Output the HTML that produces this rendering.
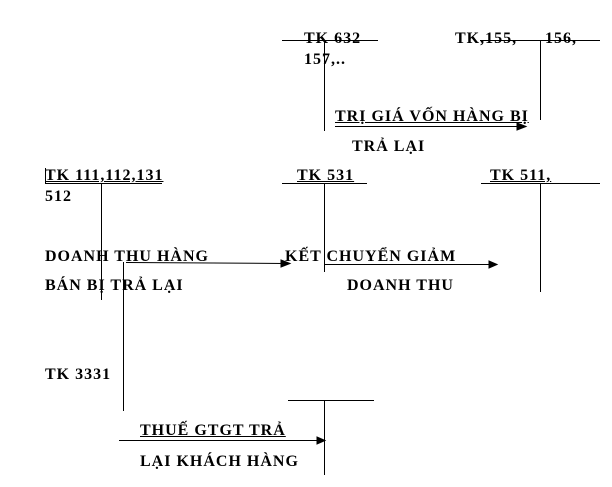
<!DOCTYPE html>
<html><head><meta charset="utf-8"><style>
body{margin:0;background:#fff;width:612px;height:487px;position:relative;overflow:hidden}
.t{position:absolute;font-family:"Liberation Serif",serif;font-weight:bold;font-size:16px;letter-spacing:1px;line-height:16px;color:#000;white-space:pre}
svg{position:absolute;left:0;top:0}
</style></head><body>
<svg width="612" height="487" stroke="#000" stroke-width="1" fill="none">
<line x1="282" y1="40.5" x2="378" y2="40.5"/>
<line x1="324.5" y1="40" x2="324.5" y2="131"/>
<line x1="480" y1="40.5" x2="600" y2="40.5"/>
<line x1="540.5" y1="40" x2="540.5" y2="120"/>
<line x1="335" y1="126.5" x2="525" y2="126.5"/>
<polygon points="526,126.5 517,123 517,130" fill="#000"/>
<line x1="45" y1="183.5" x2="162" y2="183.5"/>
<line x1="45.5" y1="168" x2="45.5" y2="183"/>
<line x1="101.5" y1="183" x2="101.5" y2="300"/>
<line x1="282" y1="183.5" x2="367" y2="183.5"/>
<line x1="324.5" y1="183" x2="324.5" y2="272"/>
<line x1="481" y1="183.5" x2="600" y2="183.5"/>
<line x1="540.5" y1="183" x2="540.5" y2="292"/>
<line x1="126" y1="262.5" x2="285" y2="263.5"/>
<polygon points="290,263.5 281,260 281,267" fill="#000"/>
<line x1="325" y1="264.5" x2="492" y2="264.5"/>
<polygon points="497,264.5 489,261 489,268" fill="#000"/>
<line x1="123.5" y1="262" x2="123.5" y2="411"/>
<line x1="288" y1="400.5" x2="374" y2="400.5"/>
<line x1="324.5" y1="400" x2="324.5" y2="475"/>
<line x1="119" y1="440.5" x2="320" y2="440.5"/>
<polygon points="325,440.5 317,437 317,444" fill="#000"/>
</svg>
<div class="t" style="left:304px;top:31px">TK 632</div>
<div class="t" style="left:304px;top:52px">157,..</div>
<div class="t" style="left:455px;top:31px">TK,155,</div>
<div class="t" style="left:545px;top:31px">156,</div>
<div class="t" style="left:335px;top:109px;text-decoration:underline">TRỊ GIÁ VỐN HÀNG BỊ</div>
<div class="t" style="left:352px;top:139px">TRẢ LẠI</div>
<div class="t" style="left:45px;top:168px;text-decoration:underline">TK 111,112,131</div>
<div class="t" style="left:45px;top:189px">512</div>
<div class="t" style="left:297px;top:168px;text-decoration:underline">TK 531</div>
<div class="t" style="left:490px;top:168px;text-decoration:underline">TK 511,</div>
<div class="t" style="left:45px;top:249px">DOANH THU HÀNG</div>
<div class="t" style="left:45px;top:278px">BÁN BỊ TRẢ LẠI</div>
<div class="t" style="left:285px;top:249px">KẾT CHUYỂN GIẢM</div>
<div class="t" style="left:347px;top:278px">DOANH THU</div>
<div class="t" style="left:45px;top:367px">TK 3331</div>
<div class="t" style="left:140px;top:423px;text-decoration:underline">THUẾ GTGT TRẢ</div>
<div class="t" style="left:140px;top:454px">LẠI KHÁCH HÀNG</div>
</body></html>
